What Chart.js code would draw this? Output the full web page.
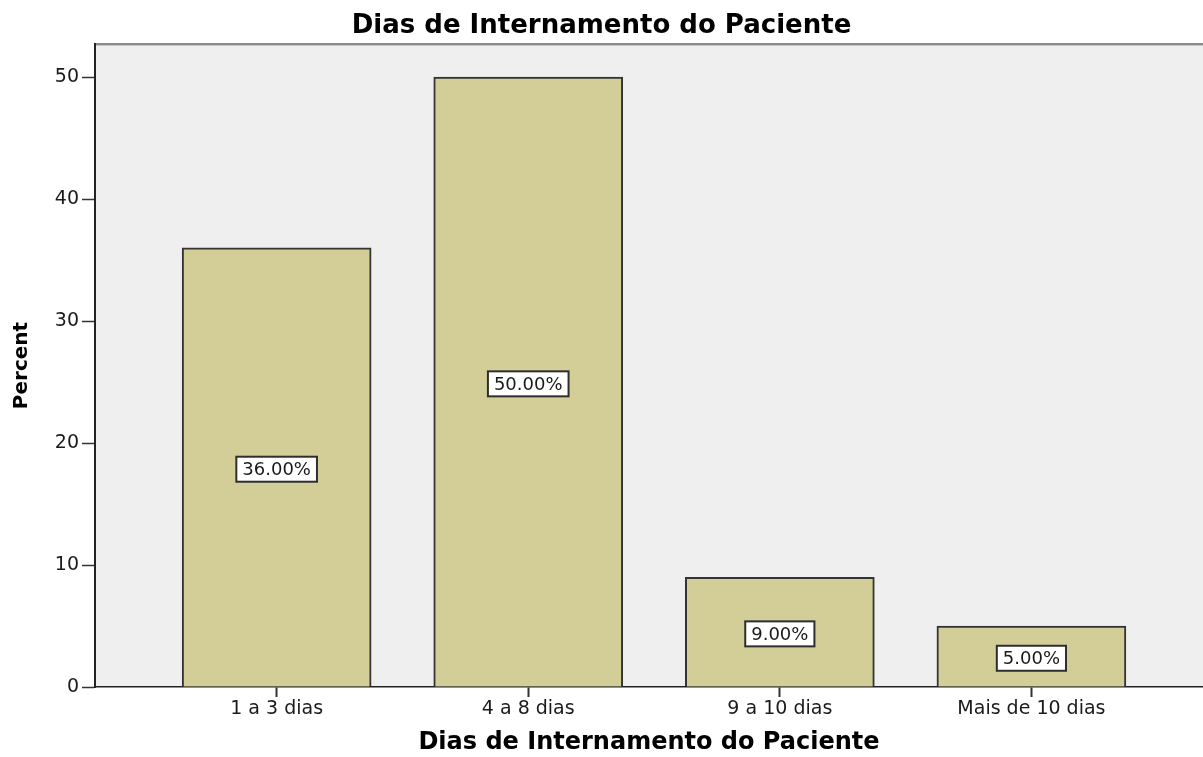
<!DOCTYPE html>
<html>
<head>
<meta charset="utf-8">
<script src="https://cdn.jsdelivr.net/npm/chart.js@4.4.1/dist/chart.umd.min.js"></script>
<style>
html,body{margin:0;padding:0;background:#fff;}
#wrap{width:1203px;height:757px;position:relative;}
</style>
</head>
<body>
<div id="wrap"><canvas id="c"></canvas></div>
<script>
const categories = ['1 a 3 dias', '4 a 8 dias', '9 a 10 dias', 'Mais de 10 dias'];
const percents = [36, 50, 9, 5];
const yTicks = [0, 10, 20, 30, 40, 50];
const chartTitle = 'Dias de Internamento do Paciente';
const xTitle = 'Dias de Internamento do Paciente';
const yTitle = 'Percent';

const FONT = '"DejaVu Sans", "Liberation Sans", Arial, sans-serif';

const bgPlugin = {
  id: 'bgPlugin',
  beforeDraw(chart) {
    const {ctx, chartArea: a} = chart;
    ctx.save();
    ctx.fillStyle = '#efefef';
    ctx.fillRect(a.left, a.top, a.right - a.left, a.bottom - a.top);
    ctx.strokeStyle = '#8a8a8a';
    ctx.lineWidth = 2;
    ctx.beginPath();
    ctx.moveTo(a.left, a.top);
    ctx.lineTo(a.right, a.top);
    ctx.stroke();
    ctx.strokeStyle = '#c4c4c4';
    ctx.lineWidth = 1;
    ctx.beginPath();
    ctx.moveTo(a.left, a.top + 1.5);
    ctx.lineTo(a.right, a.top + 1.5);
    ctx.stroke();
    ctx.restore();
  }
};

const labelPlugin = {
  id: 'labelPlugin',
  afterDatasetsDraw(chart) {
    const {ctx} = chart;
    const meta = chart.getDatasetMeta(0);
    ctx.save();
    ctx.font = '18px ' + FONT;
    ctx.textAlign = 'center';
    ctx.textBaseline = 'middle';
    meta.data.forEach((el, i) => {
      const txt = percents[i].toFixed(2) + '%';
      const w = ctx.measureText(txt).width + 12;
      const h = 25;
      const cx = el.x;
      const cy = (el.y + el.base) / 2 + 2;
      ctx.fillStyle = '#ffffff';
      ctx.fillRect(cx - w / 2, cy - h / 2, w, h);
      ctx.strokeStyle = '#2e2e2e';
      ctx.lineWidth = 2;
      ctx.strokeRect(cx - w / 2, cy - h / 2, w, h);
      ctx.fillStyle = '#1a1a1a';
      ctx.fillText(txt, cx, cy + 1);
    });
    ctx.restore();
  }
};

new Chart(document.getElementById('c'), {
  type: 'bar',
  data: {
    datasets: [{
      data: categories.map((c, i) => ({x: i, y: percents[i]})),
      backgroundColor: '#d3ce98',
      borderColor: '#333333',
      borderWidth: 2,
      barThickness: 189,
      borderSkipped: 'start'
    }]
  },
  options: {
    responsive: true,
    maintainAspectRatio: false,
    animation: false,
    layout: {padding: {left: 0, right: 0, top: 0, bottom: 0}},
    plugins: {
      legend: {display: false},
      tooltip: {enabled: false},
      title: {
        display: true,
        text: chartTitle,
        color: '#000',
        font: {family: FONT, size: 26, weight: 'bold', lineHeight: 1.2},
        padding: {top: 11, bottom: 1.8}
      }
    },
    scales: {
      x: {
        type: 'linear',
        offset: false,
        min: -0.722,
        max: 3.682,
        afterBuildTicks(scale) {
          scale.ticks = categories.map((c, i) => ({value: i}));
        },
        afterFit(scale) { scale.height = 70; },
        ticks: {
          callback: (v) => categories[v],
          color: '#1a1a1a',
          font: {family: FONT, size: 19},
          padding: 1,
          maxRotation: 0,
          autoSkip: false
        },
        grid: {
          offset: false,
          drawOnChartArea: false,
          drawTicks: true,
          tickLength: 10,
          tickColor: '#333',
          tickWidth: 2
        },
        border: {display: true, color: '#222', width: 1.5},
        title: {
          display: true,
          text: xTitle,
          color: '#000',
          font: {family: FONT, size: 24, weight: 'bold', lineHeight: 1.2},
          padding: {top: 0, bottom: 0}
        }
      },
      y: {
        min: 0,
        max: 52.72,
        afterBuildTicks(scale) {
          scale.ticks = yTicks.map(v => ({value: v}));
        },
        afterFit(scale) { scale.width = 95; },
        ticks: {
          color: '#1a1a1a',
          font: {family: FONT, size: 19},
          padding: 3
        },
        grid: {
          drawOnChartArea: false,
          drawTicks: true,
          tickLength: 13,
          tickColor: '#333',
          tickWidth: 1.5
        },
        border: {display: true, color: '#222', width: 2},
        title: {
          display: true,
          text: yTitle,
          color: '#000',
          font: {family: FONT, size: 20, weight: 'bold', lineHeight: 1.2},
          padding: {top: 10, bottom: 0}
        }
      }
    }
  },
  plugins: [bgPlugin, labelPlugin]
});
</script>
</body>
</html>
